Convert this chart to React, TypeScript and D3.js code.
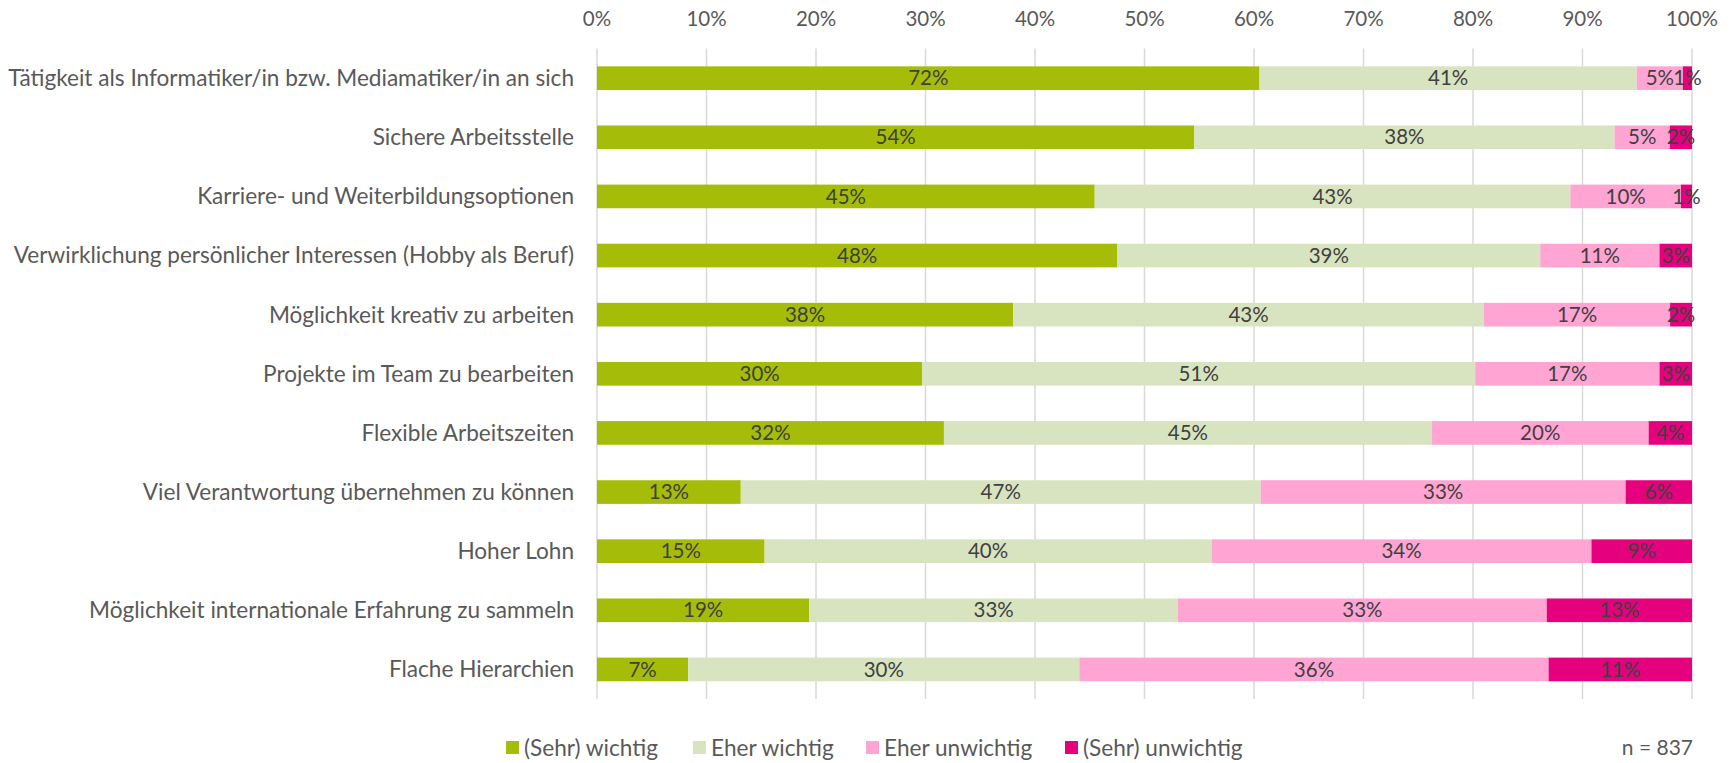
import React from 'react';
import * as d3 from 'd3';

const categories = [
  'Tätigkeit als Informatiker/in bzw. Mediamatiker/in an sich',
  'Sichere Arbeitsstelle',
  'Karriere- und Weiterbildungsoptionen',
  'Verwirklichung persönlicher Interessen (Hobby als Beruf)',
  'Möglichkeit kreativ zu arbeiten',
  'Projekte im Team zu bearbeiten',
  'Flexible Arbeitszeiten',
  'Viel Verantwortung übernehmen zu können',
  'Hoher Lohn',
  'Möglichkeit internationale Erfahrung zu sammeln',
  'Flache Hierarchien',
];

const seriesNames = ['(Sehr) wichtig', 'Eher wichtig', 'Eher unwichtig', '(Sehr) unwichtig'];
const colors = ['#a5bd09', '#d8e4bf', '#ffa4d3', '#e5007d'];

const sehrWichtig = [72, 54, 45, 48, 38, 30, 32, 13, 15, 19, 7];
const eherWichtig = [41, 38, 43, 39, 43, 51, 45, 47, 40, 33, 30];
const eherUnwichtig = [5, 5, 10, 11, 17, 17, 20, 33, 34, 33, 36];
const sehrUnwichtig = [1, 2, 1, 3, 2, 3, 4, 6, 9, 13, 11];

const ticks = [0, 0.1, 0.2, 0.3, 0.4, 0.5, 0.6, 0.7, 0.8, 0.9, 1];
const note = 'n = 837';

const W = 1732;
const H = 763;
const FONT = 'Lato, sans-serif';
const TEXT = '#595959';

export default function App() {
  const series = [sehrWichtig, eherWichtig, eherUnwichtig, sehrUnwichtig];
  const rows = categories.map((c, i) => {
    const vals = series.map((s) => s[i]);
    const total = d3.sum(vals);
    let acc = 0;
    return vals.map((v, k) => {
      const x0 = acc / total;
      acc += v;
      return { key: k, v, x0, x1: acc / total };
    });
  });

  const x = d3.scaleLinear().domain([0, 1]).range([597, 1692]);
  const y = d3.scaleBand().domain(categories).range([48.6, 699]).paddingInner(0.6).paddingOuter(0.3);

  const legendX = [506, 693, 866, 1065];
  const legendY = 748;

  return (
    <svg width={W} height={H} style={{ position: 'absolute', left: 0, top: 0, display: 'block' }} fontFamily={FONT}>
      <rect width={W} height={H} fill="#fff" />
      {ticks.map((t) => (
        <g key={t}>
          <line x1={x(t)} x2={x(t)} y1={48.6} y2={699} stroke="#d9d9d9" strokeWidth={1.5} />
          <text x={x(t)} y={19} dy="0.35em" textAnchor="middle" fontSize={20.5} fill={TEXT}>
            {d3.format('.0%')(t)}
          </text>
        </g>
      ))}
      {categories.map((c, i) => {
        const yy = y(c)!;
        const bw = y.bandwidth();
        return (
          <g key={c}>
            <text x={574} y={yy + bw / 2} dy="0.35em" textAnchor="end" fontSize={22.6} fill={TEXT}>
              {c}
            </text>
            {rows[i].map((d) => (
              <rect key={d.key} x={x(d.x0)} y={yy} width={x(d.x1) - x(d.x0)} height={bw} fill={colors[d.key]} />
            ))}
            {rows[i].map((d) => (
              <text
                key={'l' + d.key}
                x={(x(d.x0) + x(d.x1)) / 2}
                y={yy + bw / 2}
                dy="0.35em"
                textAnchor="middle"
                fontSize={20.5}
                fill="#404040"
              >
                {d.v}%
              </text>
            ))}
          </g>
        );
      })}
      {seriesNames.map((s, k) => (
        <g key={s}>
          <rect x={legendX[k]} y={legendY - 7} width={13} height={13} fill={colors[k]} />
          <text x={legendX[k] + 18} y={legendY} dy="0.35em" fontSize={22.6} fill={TEXT}>
            {s}
          </text>
        </g>
      ))}
      <text x={1693} y={legendY} dy="0.35em" textAnchor="end" fontSize={21} fill={TEXT}>
        {note}
      </text>
    </svg>
  );
}
